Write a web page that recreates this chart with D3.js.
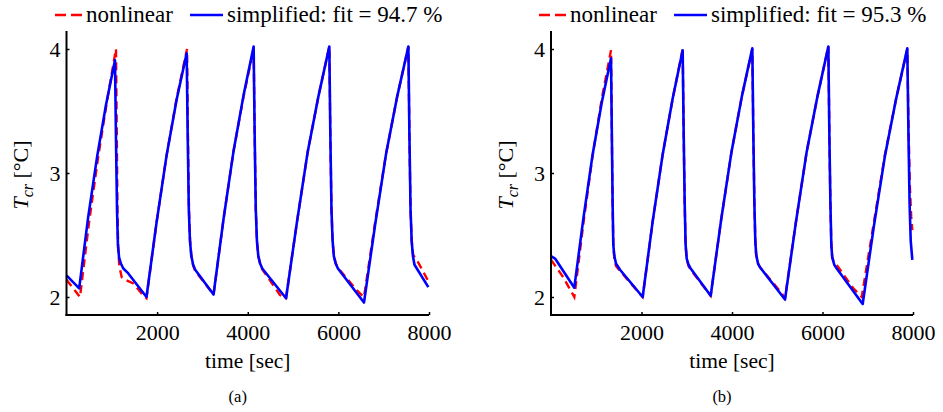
<!DOCTYPE html>
<html><head><meta charset="utf-8">
<script src="https://cdn.jsdelivr.net/npm/d3@7"></script>
<style>body{margin:0;background:#fff}svg{display:block}</style>
</head><body><svg id="c" width="943" height="412"></svg>
<script>
// ---- data ----
const xTicks = [2000, 4000, 6000, 8000];
const yTicks = [2, 3, 4];
const captions = ["(a)", "(b)"];
const fitLabels = ["simplified: fit = 94.7 %", "simplified: fit = 95.3 %"];

const aNonlinear = [[0,2.14],[298,2.0],[497,2.6],[695,3.12],[894,3.58],[1092,4.0],[1110,3.3],[1125,2.7],[1140,2.4],[1165,2.25],[1218,2.16],[1290,2.14],[1474,2.11],[1700,2.01],[1765,1.99],
 [1987,2.6],[2208,3.14],[2430,3.6],[2660,4.0],[2680,3.3],[2703,2.7],[2728,2.45],[2758,2.32],[2798,2.25],[2840,2.21],[3245,2.02],
 [3466,2.63],[3688,3.18],[3909,3.62],[4130,4.0],[4153,3.3],[4178,2.7],[4203,2.45],[4233,2.33],[4290,2.24],[4712,2.016],[4845,1.99],
 [5084,2.6],[5323,3.17],[5561,3.62],[5800,4.02],[5823,3.3],[5848,2.7],[5873,2.45],[5900,2.33],[5945,2.27],[6000,2.23],[6404,2.056],[6515,2.016],[6566,2.0],
 [6810,2.6],[7055,3.16],[7300,3.62],[7545,4.02],[7568,3.3],[7593,2.7],[7618,2.45],[7650,2.34],[7729,2.30],[7850,2.22],[7950,2.15],[7990,2.13]];
const aSimplified = [[0,2.175],[280,2.07],[477,2.64],[675,3.13],[872,3.55],[1070,3.91],[1095,3.2],[1115,2.7],[1135,2.42],[1160,2.32],[1200,2.27],[1254,2.23],[1364,2.19],[1765,2.0],
 [1987,2.6],[2208,3.14],[2430,3.59],[2652,3.965],[2675,3.3],[2700,2.7],[2725,2.45],[2755,2.33],[2795,2.26],[2840,2.22],[3245,2.02],
 [3466,2.63],[3688,3.18],[3909,3.63],[4130,4.02],[4153,3.3],[4178,2.7],[4203,2.45],[4233,2.33],[4273,2.27],[4320,2.23],[4845,1.99],
 [5084,2.6],[5323,3.17],[5561,3.62],[5800,4.02],[5823,3.3],[5848,2.7],[5873,2.45],[5900,2.33],[5940,2.27],[5990,2.23],[6565,1.955],
 [6810,2.58],[7055,3.16],[7300,3.62],[7545,4.02],[7568,3.3],[7593,2.7],[7618,2.45],[7645,2.33],[7680,2.26],[7985,2.08]];

const bNonlinear = [[0,2.30],[270,2.16],[515,2.0],[718,2.6],[920,3.14],[1123,3.6],[1326,3.99],[1345,3.3],[1362,2.75],[1377,2.42],[1400,2.31],[1436,2.25],[1525,2.21],[2026,2.0],
 [2247,2.61],[2468,3.15],[2689,3.6],[2910,4.0],[2933,3.3],[2955,2.75],[2975,2.42],[2999,2.31],[3040,2.25],[3087,2.22],[3529,2.01],
 [3759,2.62],[3989,3.17],[4219,3.62],[4449,4.0],[4472,3.3],[4495,2.75],[4515,2.45],[4535,2.34],[4575,2.27],[4619,2.24],[5100,2.03],[5171,1.99],
 [5411,2.6],[5650,3.17],[5890,3.62],[6129,4.02],[6152,3.3],[6175,2.75],[6195,2.42],[6215,2.32],[6260,2.27],[6330,2.25],[6681,2.07],[6867,2.0],
 [7135,2.6],[7381,3.15],[7628,3.6],[7874,4.0],[7900,3.4],[7930,2.9],[7960,2.65],[7985,2.54]];
const bSimplified = [[0,2.33],[90,2.31],[515,2.075],[718,2.64],[920,3.15],[1123,3.57],[1326,3.925],[1345,3.3],[1362,2.75],[1377,2.42],[1400,2.33],[1436,2.27],[1525,2.22],[2026,2.0],
 [2247,2.61],[2468,3.15],[2689,3.6],[2910,3.99],[2933,3.3],[2955,2.75],[2975,2.42],[2999,2.31],[3040,2.26],[3087,2.23],[3529,2.01],
 [3759,2.62],[3989,3.17],[4219,3.62],[4449,4.005],[4472,3.3],[4495,2.75],[4515,2.45],[4535,2.34],[4575,2.27],[4619,2.24],[5171,1.98],
 [5411,2.6],[5650,3.17],[5890,3.62],[6129,4.02],[6152,3.3],[6175,2.75],[6195,2.42],[6215,2.32],[6260,2.26],[6314,2.23],[6888,1.944],
 [7135,2.57],[7381,3.14],[7628,3.6],[7874,4.005],[7900,3.3],[7925,2.75],[7950,2.45],[7985,2.30]];

const panels = [
  {nonlin: aNonlinear, simp: aSimplified, caption: captions[0], fit: fitLabels[0], x0: 66.5, x1: 429, yl: 20, leg: 55},
  {nonlin: bNonlinear, simp: bSimplified, caption: captions[1], fit: fitLabels[1], x0: 551, x1: 913, yl: 505, leg: 539}
];

const FONT = "'Liberation Serif', Tinos, 'Times New Roman', Times, 'DejaVu Serif', serif";
const svg = d3.select("#c");
const yTop = 31, yBot = 315;

panels.forEach(p => {
  const x = d3.scaleLinear().domain([0, 8000]).range([p.x0, p.x1]);
  const y = d3.scaleLinear().domain([2, 4]).range([297, 49]);
  const g = svg.append("g").attr("font-family", FONT).style("font-family", FONT);

  const line = d3.line().x(d => x(d[0])).y(d => y(d[1]));
  g.append("path").datum(p.nonlin).attr("d", line).attr("fill", "none")
    .attr("stroke", "#ff0000").attr("stroke-width", 2.4).attr("stroke-dasharray", "8,5");
  g.append("path").datum(p.simp).attr("d", line).attr("fill", "none")
    .attr("stroke", "#0000ff").attr("stroke-width", 2.6).attr("stroke-linejoin", "round");

  // axes
  const xAxis = d3.axisBottom(x).tickValues(xTicks).tickSize(-3).tickPadding(9).tickFormat(d3.format("d"));
  const gx = g.append("g").attr("transform", `translate(0,${yBot})`).call(xAxis);
  gx.attr("font-family", FONT).attr("font-size", 22);
  gx.select(".domain").attr("d", `M${p.x0 - 1},0H${p.x1}`).attr("stroke-width", 2);
  gx.selectAll(".tick line").attr("stroke-width", 1.5);
  gx.selectAll(".tick text").style("font-family", FONT).style("font-size", "22px").attr("fill", "#000");

  const yAxis = d3.axisLeft(y).tickValues(yTicks).tickSize(-3).tickPadding(6).tickFormat(d3.format("d"));
  const gy = g.append("g").attr("transform", `translate(${p.x0},0)`).call(yAxis);
  gy.attr("font-family", FONT).attr("font-size", 22);
  gy.select(".domain").attr("d", `M0,${yTop}V${yBot + 1}`).attr("stroke-width", 2);
  gy.selectAll(".tick line").attr("stroke-width", 1.5);
  gy.selectAll(".tick text").style("font-family", FONT).style("font-size", "22px").attr("fill", "#000");

  // labels
  const yl = g.append("text").attr("transform", `translate(${p.yl + 8},175) rotate(-90)`)
    .attr("text-anchor", "middle").style("font-size", "22px");
  yl.append("tspan").style("font-style", "italic").text("T");
  yl.append("tspan").style("font-style", "italic").style("font-size", "16px").attr("dy", 5).text("cr");
  yl.append("tspan").attr("dy", -5).text(" [°C]");

  g.append("text").attr("x", (p.x0 + p.x1) / 2).attr("y", 368).attr("text-anchor", "middle")
    .style("font-size", "21.5px").text("time [sec]");
  g.append("text").attr("x", (p.x0 + p.x1) / 2 - 10).attr("y", 402).attr("text-anchor", "middle")
    .style("font-size", "16.5px").text(p.caption);

  // legend
  const lg = g.append("g");
  lg.append("line").attr("x1", p.leg).attr("x2", p.leg + 27).attr("y1", 15).attr("y2", 15)
    .attr("stroke", "#ff0000").attr("stroke-width", 2.4).attr("stroke-dasharray", "11,5");
  lg.append("text").attr("x", p.leg + 31).attr("y", 22).style("font-size", "23px").text("nonlinear");
  lg.append("line").attr("x1", p.leg + 135).attr("x2", p.leg + 168).attr("y1", 15).attr("y2", 15)
    .attr("stroke", "#0000ff").attr("stroke-width", 2.6);
  lg.append("text").attr("x", p.leg + 172).attr("y", 22).style("font-size", "23px").text(p.fit);
});
</script></body></html>
